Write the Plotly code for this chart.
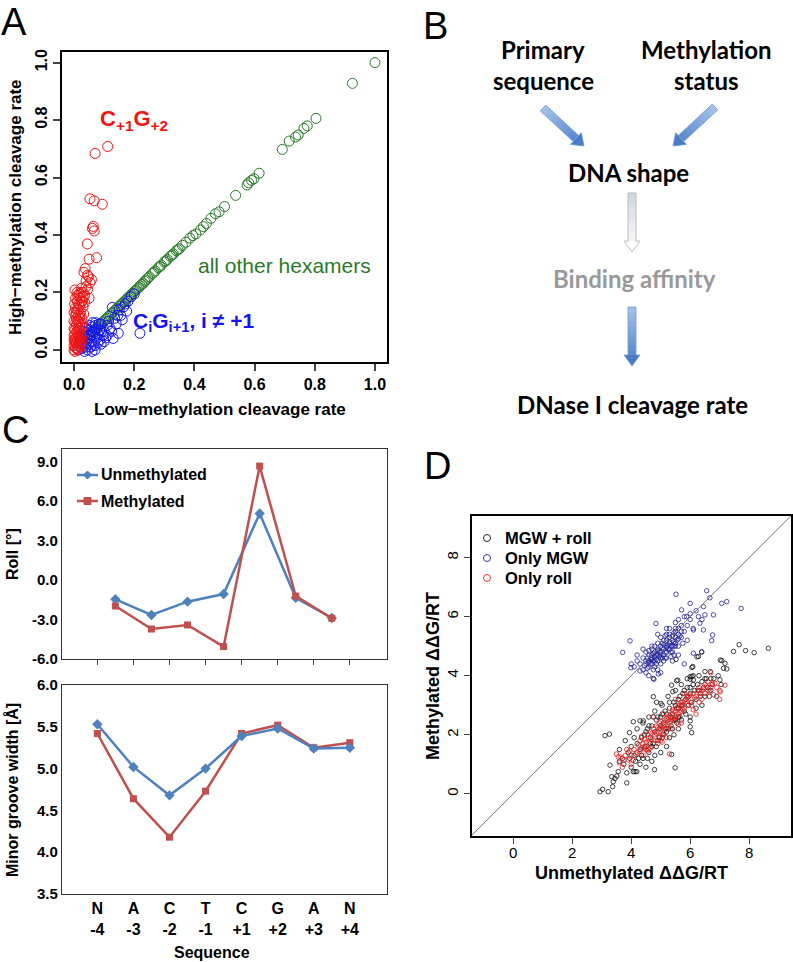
import math
import plotly.graph_objects as go

W, H = 793, 962

# ---------------- Panel A data ----------------
a_green = [(1.0, 1.0), (0.925, 0.928), (0.804, 0.806), (0.775, 0.78), (0.764, 0.771), (0.745, 0.748),
           (0.736, 0.741), (0.715, 0.727), (0.692, 0.698), (0.615, 0.615), (0.598, 0.596), (0.59, 0.59),
           (0.58, 0.582), (0.575, 0.574), (0.537, 0.538), (0.50, 0.499), (0.482, 0.481), (0.47, 0.474),
           (0.455, 0.458), (0.43, 0.429), (0.42, 0.418), (0.395, 0.398), (0.385, 0.389), (0.372, 0.375),
           (0.36, 0.364), (0.35, 0.352), (0.34, 0.345), (0.33, 0.334), (0.32, 0.326), (0.31, 0.315),
           (0.30, 0.306), (0.29, 0.295), (0.28, 0.286), (0.27, 0.275), (0.26, 0.266), (0.25, 0.255),
           (0.245, 0.25), (0.24, 0.243), (0.235, 0.239), (0.23, 0.232), (0.225, 0.228), (0.22, 0.223),
           (0.215, 0.217), (0.21, 0.213), (0.205, 0.207), (0.20, 0.203), (0.195, 0.197), (0.19, 0.193),
           (0.185, 0.187), (0.18, 0.183), (0.175, 0.177), (0.17, 0.172), (0.165, 0.167), (0.16, 0.162),
           (0.155, 0.157), (0.15, 0.152), (0.145, 0.146), (0.14, 0.142), (0.135, 0.137), (0.13, 0.131),
           (0.125, 0.127), (0.12, 0.121), (0.115, 0.117), (0.11, 0.111), (0.105, 0.107), (0.10, 0.101),
           (0.095, 0.097), (0.09, 0.091), (0.085, 0.087), (0.08, 0.081), (0.075, 0.077), (0.07, 0.072),
           (0.065, 0.067), (0.06, 0.062), (0.055, 0.057), (0.05, 0.052), (0.045, 0.047), (0.265, 0.27),
           (0.285, 0.29), (0.305, 0.31), (0.325, 0.33), (0.345, 0.349), (0.405, 0.404), (0.44, 0.44)]
a_blue = [(0.219, 0.058), (0.147, 0.058), (0.100, 0.029), (0.105, 0.042), (0.095, 0.05), (0.12, 0.075),
          (0.14, 0.09), (0.16, 0.105), (0.127, 0.148), (0.15, 0.14), (0.2, 0.195), (0.19, 0.185),
          (0.17, 0.16), (0.18, 0.17), (0.165, 0.15), (0.155, 0.12), (0.135, 0.11), (0.11, 0.085),
          (0.09, 0.09), (0.085, 0.07), (0.08, 0.055), (0.075, 0.04), (0.07, 0.085), (0.065, 0.06),
          (0.06, 0.08), (0.06, 0.03), (0.055, 0.05), (0.05, 0.07), (0.05, 0.02), (0.045, 0.04),
          (0.04, 0.06), (0.04, 0.01), (0.035, 0.03), (0.035, 0.05), (0.03, 0.015), (0.03, 0.04),
          (0.025, 0.025), (0.025, 0.005), (0.02, 0.01), (0.018, 0.03), (0.015, 0.0), (0.045, 0.0),
          (0.055, 0.01), (0.065, 0.02), (0.07, 0.015), (0.08, 0.025), (0.09, 0.02), (0.085, 0.035),
          (0.11, 0.05), (0.125, 0.065), (0.13, 0.04), (0.115, 0.1), (0.1, 0.065), (0.075, 0.07),
          (0.068, 0.045), (0.058, 0.065), (0.048, 0.055), (0.038, 0.075), (0.032, 0.065), (0.028, 0.05),
          (0.052, 0.085), (0.062, 0.095), (0.072, 0.095), (0.082, 0.09), (0.042, 0.025), (0.022, 0.045),
          (0.092, 0.065), (0.145, 0.12), (0.175, 0.135), (0.07, 0.0), (0.06, -0.005), (0.035, -0.005)]
a_red = [(0.070, 0.684), (0.112, 0.708), (0.053, 0.526), (0.067, 0.519), (0.094, 0.507), (0.061, 0.423),
         (0.067, 0.414), (0.064, 0.43), (0.044, 0.369), (0.075, 0.321), (0.050, 0.316), (0.037, 0.283),
         (0.033, 0.27), (0.045, 0.26), (0.048, 0.255), (0.053, 0.234), (0.058, 0.245), (0.040, 0.24),
         (0.003, 0.209), (0.025, 0.215), (0.030, 0.2), (0.035, 0.19), (0.045, 0.21), (0.020, 0.18),
         (0.028, 0.17), (0.015, 0.16), (0.05, 0.18), (0.01, 0.14), (0.022, 0.13), (0.03, 0.15),
         (0.005, 0.12), (0.018, 0.11), (0.012, 0.1), (0.025, 0.09), (0.0, 0.1), (0.008, 0.085),
         (0.015, 0.075), (0.003, 0.07), (0.02, 0.065), (0.01, 0.06), (0.0, 0.05), (0.015, 0.05),
         (0.005, 0.04), (0.012, 0.035), (0.002, 0.03), (0.02, 0.03), (0.008, 0.02), (0.0, 0.015),
         (0.015, 0.015), (0.005, 0.008), (0.01, 0.005), (0.0, 0.0), (0.003, -0.005), (0.012, 0.0),
         (0.02, 0.01), (0.025, 0.045), (0.028, 0.08), (0.007, 0.13), (0.002, 0.16), (0.017, 0.195),
         (0.035, 0.165), (0.04, 0.22), (0.006, 0.095), (0.0, 0.075), (0.014, 0.12), (0.022, 0.055),
         (0.009, 0.045), (0.004, 0.025), (0.018, 0.09), (0.026, 0.11), (0.011, 0.17), (0.032, 0.125),
         (0.0, 0.13), (0.005, 0.18), (0.01, 0.2), (0.015, 0.14), (0.02, 0.12), (0.025, 0.17),
         (0.008, 0.11), (0.003, 0.055), (0.013, 0.065), (0.018, 0.04), (0.007, 0.03), (0.0, 0.035),
         (0.022, 0.02), (0.027, 0.03), (0.016, 0.1), (0.004, 0.145), (0.019, 0.155), (0.03, 0.185),
         (0.012, 0.19), (0.024, 0.2)]
a_ticks = [0.0, 0.2, 0.4, 0.6, 0.8, 1.0]
a_ticktext = ["0.0", "0.2", "0.4", "0.6", "0.8", "1.0"]

# ---------------- Panel C data ----------------
c_series = ["Unmethylated", "Methylated"]
c_roll_pos = [0.5, 1.5, 2.5, 3.5, 4.5, 5.5, 6.5]
c_roll_unmeth = [-1.46, -2.65, -1.64, -1.06, 5.07, -1.35, -2.88]
c_roll_meth = [-1.97, -3.72, -3.41, -5.06, 8.67, -1.21, -2.9]
c_roll_ticks = [-6, -3, 0, 3, 6, 9]
c_roll_ticktext = ["-6.0", "-3.0", "0.0", "3.0", "6.0", "9.0"]
c_seq_labels = ["N<br>-4", "A<br>-3", "C<br>-2", "T<br>-1", "C<br>+1", "G<br>+2", "A<br>+3", "N<br>+4"]
c_seq_pos = [0, 1, 2, 3, 4, 5, 6, 7]
c_mgw_unmeth = [5.53, 5.02, 4.68, 5.0, 5.39, 5.48, 5.24, 5.25]
c_mgw_meth = [5.42, 4.64, 4.18, 4.73, 5.42, 5.52, 5.25, 5.31]
c_mgw_ticks = [3.5, 4.0, 4.5, 5.0, 5.5, 6.0]
c_mgw_ticktext = ["3.5", "4.0", "4.5", "5.0", "5.5", "6.0"]

# ---------------- Panel D data ----------------
d_series = ["MGW + roll", "Only MGW", "Only roll"]
d_black = [(2.94, 0.07), (3.03, 0.15), (3.22, 0.07), (3.11, 1.97), (3.26, 2.02), (3.28, 0.97), (3.34, 0.58),
           (3.39, 0.41), (3.45, 0.52), (3.51, 0.6), (3.37, 0.24), (3.56, 0.75), (3.85, 0.37), (3.85, 0.71),
           (4.07, 0.75), (4.13, 0.75), (4.19, 0.75), (4.79, 0.82), (5.49, 0.88), (5.37, 1.33), (3.94, 2.07),
           (4.07, 2.44), (4.30, 2.47), (4.41, 2.47), (4.75, 2.61), (4.86, 3.1), (5.01, 3.06), (5.54, 3.83),
           (5.41, 3.46), (6.0, 3.88), (6.11, 3.86), (7.01, 3.86), (6.50, 4.14), (6.09, 4.31), (6.28, 4.65),
           (6.39, 4.8), (7.07, 4.51), (7.18, 4.42), (7.24, 4.23), (7.47, 4.82), (7.66, 5.05), (8.17, 4.78),
           (8.65, 4.93), (7.88, 4.85), (6.0, 3.97), (5.37, 3.68), (4.75, 3.29), (6.05, 2.07), (6.0, 2.27),
           (6.0, 2.47), (4.75, 3.91), (6.68, 4.14), (7.02, 4.53), (7.13, 4.25), (6.06, 4.28), (6.06, 3.97),
           (5.52, 4.55), (5.58, 3.85), (6.23, 4.64),
           (3.9, 1.4), (4.0, 1.6), (4.1, 1.3), (4.2, 1.7), (4.3, 1.5), (4.35, 1.9), (4.4, 1.2), (4.45, 2.0),
           (4.5, 1.6), (4.55, 2.2), (4.6, 1.4), (4.65, 1.9), (4.7, 2.3), (4.75, 1.7), (4.8, 2.1), (4.85, 2.5),
           (4.9, 1.8), (4.95, 2.2), (5.0, 2.6), (5.05, 1.9), (5.1, 2.4), (5.15, 2.8), (5.2, 2.1), (5.25, 2.5),
           (5.3, 2.9), (5.35, 2.3), (5.4, 2.7), (5.45, 3.1), (5.5, 2.5), (5.55, 2.9), (5.6, 3.2), (5.65, 2.6),
           (5.7, 3.0), (5.75, 3.4), (5.8, 2.8), (5.85, 3.2), (5.9, 3.6), (5.95, 3.0), (6.0, 3.4), (6.1, 3.7),
           (6.2, 3.2), (6.3, 3.5), (6.4, 3.8), (6.5, 3.3), (6.6, 3.6), (6.7, 3.5), (6.8, 3.9), (6.9, 3.3),
           (6.4, 3.0), (6.2, 2.9), (5.0, 1.4), (4.8, 1.3), (5.2, 1.6), (4.6, 2.6), (4.4, 2.4), (4.2, 2.2),
           (3.8, 1.8), (3.7, 1.2), (3.6, 1.1), (4.0, 0.9), (4.3, 1.0), (4.7, 1.1), (5.3, 1.9), (5.6, 2.2),
           (6.0, 2.6), (6.3, 4.0), (5.5, 3.5), (5.7, 3.7),
           (4.1, 1.9), (4.25, 1.2), (4.5, 2.1), (4.6, 2.3), (4.7, 1.6), (4.85, 1.6), (4.9, 2.6), (5.0, 2.3),
           (5.05, 2.7), (5.1, 2.0), (5.2, 2.7), (5.25, 2.2), (5.3, 3.1), (5.35, 2.6), (5.4, 2.2), (5.45, 2.5),
           (5.5, 3.0), (5.55, 2.4), (5.6, 2.9), (5.65, 3.3), (5.7, 2.5), (5.75, 3.0), (5.8, 3.5), (5.85, 2.7),
           (5.9, 3.3), (6.0, 3.6), (6.05, 3.1), (6.15, 3.5), (6.25, 3.7), (6.35, 3.3), (6.45, 3.6), (6.55, 3.9),
           (6.65, 3.3), (6.75, 3.7), (3.6, 1.5), (3.75, 1.0), (3.95, 1.2), (4.15, 1.1), (4.35, 1.3), (4.55, 1.2),
           (4.45, 1.55), (4.65, 1.7), (4.95, 1.9), (5.15, 2.2), (5.45, 2.0), (5.6, 2.6), (4.5, 0.9), (4.8, 2.8),
           (5.05, 3.0), (5.25, 3.3), (6.1, 4.0), (5.9, 3.9), (6.5, 3.9), (6.7, 3.9), (7.05, 3.7), (6.95, 4.0)]
d_blue = [(5.52, 6.76), (6.56, 6.88), (6.67, 6.64), (7.07, 6.45), (7.24, 6.51), (7.73, 6.28), (3.96, 5.18),
          (3.71, 4.79), (4.84, 5.77), (3.99, 4.27), (4.30, 4.16), (4.77, 3.88), (4.92, 4.06), (6.76, 5.38),
          (6.73, 5.19), (6.11, 4.76), (6.39, 4.81), (6.28, 6.0), (6.0, 6.45), (5.71, 6.23), (5.88, 6.0),
          (6.45, 6.34), (6.5, 6.06), (6.79, 6.06), (6.33, 5.78), (6.11, 5.55), (6.45, 5.55),
          (4.5, 4.4), (4.6, 4.5), (4.7, 4.6), (4.8, 4.5), (4.9, 4.7), (5.0, 4.8), (5.1, 4.9), (5.2, 5.0),
          (5.3, 5.1), (5.4, 5.2), (5.5, 5.3), (5.6, 5.4), (4.6, 4.7), (4.7, 4.4), (4.8, 4.8), (4.9, 4.5),
          (5.0, 5.0), (5.1, 4.7), (5.2, 5.2), (5.3, 4.9), (5.4, 5.0), (5.5, 5.1), (4.4, 4.6), (4.5, 4.8),
          (4.7, 4.9), (4.8, 4.3), (4.9, 4.2), (5.0, 4.6), (5.1, 5.2), (5.2, 4.8), (5.3, 5.4), (5.4, 4.8),
          (5.5, 5.5), (5.6, 5.0), (5.7, 5.3), (4.3, 4.4), (4.4, 4.2), (4.6, 4.3), (4.7, 4.7), (4.8, 5.0),
          (4.9, 4.9), (5.0, 4.4), (5.1, 4.5), (5.2, 4.6), (5.3, 5.3), (5.45, 5.45), (5.6, 5.6), (5.7, 5.7),
          (5.8, 5.5), (5.9, 5.2), (5.8, 6.0), (5.5, 5.8), (5.3, 5.6), (5.0, 5.3), (4.9, 5.4), (4.7, 5.0),
          (4.5, 4.1), (4.2, 4.5), (4.1, 4.3), (4.6, 4.0), (5.0, 4.1), (5.4, 4.5), (5.6, 4.7), (5.8, 4.4),
          (5.2, 5.6), (5.6, 5.9), (6.0, 5.9), (6.2, 6.2), (6.4, 5.9), (6.1, 5.6), (4.4, 4.9), (4.2, 4.7),
          (4.0, 4.4), (5.35, 4.65), (5.15, 5.35), (4.85, 4.55), (4.75, 4.75), (5.05, 4.95), (5.25, 5.05),
          (4.95, 4.65), (4.65, 4.55), (5.45, 5.0),
          (4.55, 4.6), (4.65, 4.4), (4.75, 4.5), (4.85, 4.7), (4.95, 4.8), (5.05, 4.6), (5.15, 4.8),
          (5.25, 4.9), (5.35, 5.0), (5.45, 5.15), (5.55, 5.2), (5.65, 5.35), (4.6, 4.45), (4.7, 4.55),
          (4.8, 4.65), (4.9, 4.85), (5.0, 4.7), (5.1, 5.05), (5.2, 4.95), (5.3, 5.15), (5.4, 5.35),
          (5.5, 5.0), (5.6, 5.25), (4.5, 4.5), (4.45, 4.35), (4.75, 4.2), (5.05, 5.1), (5.35, 4.8),
          (5.7, 5.5), (5.75, 5.1), (4.55, 4.25), (4.85, 4.4), (5.15, 4.6), (5.45, 4.7), (4.6, 4.85),
          (4.9, 5.1), (5.2, 5.4), (5.5, 5.6), (5.9, 5.7), (6.0, 6.1)]
d_red = [(3.56, 1.25), (4.07, 1.14), (6.33, 3.4), (6.84, 3.74), (7.18, 3.68), (7.02, 3.45), (7.0, 3.2),
         (6.7, 4.1), (6.6, 3.8), (3.5, 1.35), (3.6, 1.05), (3.7, 0.9), (3.8, 1.3), (3.9, 1.15), (4.0, 1.3),
         (4.1, 1.5), (4.2, 1.4), (4.25, 1.65), (4.3, 1.8), (4.35, 1.55), (4.4, 1.7), (4.45, 1.85), (4.5, 1.75),
         (4.55, 2.0), (4.6, 1.9), (4.65, 2.1), (4.7, 1.85), (4.75, 2.2), (4.8, 2.0), (4.85, 2.3), (4.9, 2.1),
         (4.95, 2.4), (5.0, 2.2), (5.05, 2.0), (5.1, 2.3), (5.15, 2.5), (5.2, 2.2), (5.25, 2.6), (5.3, 2.4),
         (5.35, 2.7), (5.4, 2.5), (5.45, 2.8), (5.5, 2.6), (5.55, 2.9), (5.6, 2.7), (5.65, 3.0), (5.7, 2.8),
         (5.75, 3.1), (5.8, 2.9), (5.85, 3.2), (5.9, 3.0), (5.95, 3.3), (6.0, 3.1), (6.1, 3.4), (6.2, 3.3),
         (6.3, 3.6), (6.4, 3.5), (6.5, 3.7), (6.6, 3.5), (6.7, 3.6), (6.5, 3.4), (6.2, 2.7), (5.3, 1.35),
         (4.9, 1.7), (4.6, 1.5), (5.2, 1.9), (5.7, 2.4), (4.4, 1.3), (4.0, 1.0), (3.85, 1.5), (4.75, 2.6),
         (5.0, 1.8), (5.5, 3.2), (5.8, 3.4), (6.3, 3.1), (5.1, 2.7), (4.55, 1.45),
         (4.15, 1.35), (4.3, 1.45), (4.35, 1.95), (4.5, 1.5), (4.6, 1.75), (4.65, 1.55), (4.7, 2.05),
         (4.8, 1.8), (4.85, 2.05), (4.9, 2.25), (4.95, 1.95), (5.0, 2.45), (5.05, 2.25), (5.1, 2.05),
         (5.15, 2.35), (5.2, 2.55), (5.25, 2.3), (5.3, 2.65), (5.35, 2.45), (5.4, 2.85), (5.45, 2.55),
         (5.5, 2.8), (5.55, 2.6), (5.6, 3.0), (5.65, 2.75), (5.7, 3.1), (5.75, 2.85), (5.8, 3.15),
         (5.9, 3.25), (6.0, 3.35), (6.05, 3.0), (6.15, 3.25), (6.25, 3.5), (6.35, 3.4), (6.45, 3.55),
         (6.55, 3.65), (6.65, 3.45), (6.75, 3.75), (6.9, 3.6), (7.0, 3.5), (3.95, 1.45), (3.75, 1.15),
         (3.65, 1.25), (4.45, 1.6), (5.05, 1.75), (5.35, 2.2), (5.6, 2.35), (6.1, 2.85), (6.4, 3.2),
         (6.8, 3.35)]
d_ticks = [0, 2, 4, 6, 8]

# ---------------- helpers ----------------
def px(x):
    return x / W


def py(y):
    return 1 - y / H


def xs(pts):
    return [p[0] for p in pts]


def ys(pts):
    return [p[1] for p in pts]


SANS = "Liberation Sans, Arial, sans-serif"
CAL = "Lato, Open Sans, sans-serif"

A_GREEN, A_BLUE, A_RED = "#2a7a2a", "#1414f0", "#f01414"
BLUE_C, RED_C = "#4f81bd", "#c0504d"
D_COLS = ["#111111", "#22229a", "#ee1c1c"]

fig = go.Figure()

# Panel A
for pts, col in [(a_green, A_GREEN), (a_blue, A_BLUE), (a_red, A_RED)]:
    fig.add_trace(go.Scatter(x=xs(pts), y=ys(pts), mode="markers", xaxis="x", yaxis="y",
                             showlegend=False,
                             marker=dict(symbol="circle-open", size=10, color=col, line=dict(width=1))))

# Panel C top (roll)
fig.add_trace(go.Scatter(x=c_roll_pos, y=c_roll_unmeth, mode="lines+markers", name=c_series[0],
                         xaxis="x2", yaxis="y2", showlegend=False,
                         line=dict(color=BLUE_C, width=2.5),
                         marker=dict(symbol="diamond", size=8, color=BLUE_C)))
fig.add_trace(go.Scatter(x=c_roll_pos, y=c_roll_meth, mode="lines+markers", name=c_series[1],
                         xaxis="x2", yaxis="y2", showlegend=False,
                         line=dict(color=RED_C, width=2.5),
                         marker=dict(symbol="square", size=7, color=RED_C)))
# Panel C bottom (MGW)
fig.add_trace(go.Scatter(x=c_seq_pos, y=c_mgw_meth, mode="lines+markers", showlegend=False,
                         xaxis="x3", yaxis="y3", name=c_series[1],
                         line=dict(color=RED_C, width=2.5),
                         marker=dict(symbol="square", size=7, color=RED_C)))
fig.add_trace(go.Scatter(x=c_seq_pos, y=c_mgw_unmeth, mode="lines+markers", showlegend=False,
                         xaxis="x3", yaxis="y3", name=c_series[0],
                         line=dict(color=BLUE_C, width=2.5),
                         marker=dict(symbol="diamond", size=8, color=BLUE_C)))

# Panel D
for pts, col, nm in zip([d_black, d_blue, d_red], D_COLS, d_series):
    fig.add_trace(go.Scatter(x=xs(pts), y=ys(pts), mode="markers", xaxis="x4", yaxis="y4",
                             name=nm, showlegend=False,
                             marker=dict(symbol="circle-open", size=4.5, color=col, line=dict(width=0.8))))

# ---------------- axes ----------------
A_font = dict(family=SANS, size=16, color="black", weight="bold")
common_box = dict(showgrid=False, zeroline=False, mirror=True, showline=True, automargin=False)

layout = dict(
    width=W, height=H, autosize=False,
    margin=dict(l=0, r=0, t=0, b=0, pad=0, autoexpand=False),
    paper_bgcolor="white", plot_bgcolor="white",
    font=dict(family=SANS, color="black"),
    showlegend=False,
    xaxis=dict(domain=[px(62), px(387)], range=[-0.04, 1.04], anchor="y",
               tickvals=a_ticks, ticktext=a_ticktext, ticks="outside", ticklen=7, tickwidth=1.5,
               linecolor="black", linewidth=2, tickfont=A_font, **common_box),
    yaxis=dict(domain=[py(362), py(52)], range=[-0.042, 1.037], anchor="x",
               tickvals=a_ticks, ticktext=a_ticktext, ticks="outside", ticklen=7, tickwidth=1.5,
               tickangle=-90, linecolor="black", linewidth=2, tickfont=A_font, **common_box),
    xaxis2=dict(domain=[px(62), px(387)], range=[-0.98, 8.03], anchor="y2",
                tickvals=c_seq_pos, showticklabels=False, ticks="outside", ticklen=5, tickcolor="#444",
                linecolor="#333", linewidth=1.3, **common_box),
    yaxis2=dict(domain=[py(659), py(449)], range=[-6, 9.97], anchor="x2",
                tickvals=c_roll_ticks, ticktext=c_roll_ticktext, ticks="",
                tickfont=dict(family=SANS, size=15, color="black", weight="bold"),
                linecolor="#333", linewidth=1.3, **common_box),
    xaxis3=dict(domain=[px(62), px(387)], range=[-0.98, 8.03], anchor="y3",
                tickvals=c_seq_pos, ticktext=c_seq_labels, ticks="",
                tickfont=dict(family=SANS, size=16, color="black", weight="bold"),
                linecolor="#333", linewidth=1.3, **common_box),
    yaxis3=dict(domain=[py(894), py(685)], range=[3.5, 6.0], anchor="x3",
                tickvals=c_mgw_ticks, ticktext=c_mgw_ticktext, ticks="",
                tickfont=dict(family=SANS, size=15, color="black", weight="bold"),
                linecolor="#333", linewidth=1.3, **common_box),
    xaxis4=dict(domain=[px(472), px(791)], range=[-1.4, 9.42], anchor="y4",
                tickvals=d_ticks, ticks="outside", ticklen=6, tickwidth=1, ticklabelstandoff=-4,
                tickfont=dict(family=SANS, size=15, color="black"),
                linecolor="black", linewidth=2, **common_box),
    yaxis4=dict(domain=[py(836), py(516)], range=[-1.43, 9.41], anchor="x4",
                tickvals=d_ticks, ticks="outside", ticklen=6, tickwidth=1, tickangle=-90,
                tickfont=dict(family=SANS, size=15, color="black"),
                linecolor="black", linewidth=2, **common_box),
)
fig.update_layout(**layout)

# ---------------- annotations ----------------
ann = []


def text(x, y, s, size, color="black", family=SANS, bold=False, angle=0, xanchor="center"):
    ann.append(dict(x=px(x), y=py(y), xref="paper", yref="paper", text=s, showarrow=False,
                    xanchor=xanchor, yanchor="middle", textangle=angle,
                    font=dict(family=family, size=size, color=color, weight="bold" if bold else "normal")))


# panel letters
text(14, 22, "A", 38)
text(436, 26, "B", 38)
text(15, 430, "C", 38)
text(437, 466, "D", 38)

# panel A
text(220, 409, "Low−methylation cleavage rate", 17, bold=True)
text(15, 207, "High−methylation cleavage rate", 17, bold=True, angle=-90)
text(134, 120, "C<sub>+1</sub>G<sub>+2</sub>", 22, color=A_RED, bold=True)
text(284, 266, "all other hexamers", 21, color=A_GREEN)
text(193, 322, "C<sub>i</sub>G<sub>i+1</sub>, i ≠ +1", 21, color=A_BLUE, bold=True)

# panel B
BF = 24
text(543, 50, "Primary", BF, family=CAL, bold=True)
text(543, 80, "sequence", BF, family=CAL, bold=True)
text(706, 50, "Methylation", BF, family=CAL, bold=True)
text(706, 80, "status", BF, family=CAL, bold=True)
text(628, 172, "DNA shape", BF, family=CAL, bold=True)
text(634, 278, "Binding affinity", BF, color="#999999", family=CAL, bold=True)
text(632, 404, "DNase I cleavage rate", BF, family=CAL, bold=True)

# panel C
text(12, 554, "Roll [°]", 16, bold=True, angle=-90)
text(12, 790, "Minor groove width [Å]", 16, bold=True, angle=-90)
text(212, 952, "Sequence", 16, bold=True)
# panel C legend text
text(99, 475, c_series[0], 16, bold=True, xanchor="left")
text(99, 501, c_series[1], 16, bold=True, xanchor="left")

# panel D
text(631, 873, "Unmethylated ΔΔG/RT", 18, bold=True)
text(433, 676, "Methylated ΔΔG/RT", 18, bold=True, angle=-90)
# panel D legend text
for i, nm in enumerate(d_series):
    text(503, 538 + 20 * i, nm, 16.5, bold=True, xanchor="left")

fig.update_layout(annotations=ann)

# ---------------- shapes ----------------
shapes = []


def poly(pts, fill, line=None, lw=1):
    path = "M " + " L ".join(f"{px(a):.5f},{py(b):.5f}" for a, b in pts) + " Z"
    shapes.append(dict(type="path", path=path, xref="paper", yref="paper",
                       fillcolor=fill, line=dict(color=line or "rgba(0,0,0,0)", width=lw if line else 0)))


def mix(c1, c2, t):
    a = [int(c1[i:i + 2], 16) for i in (1, 3, 5)]
    b = [int(c2[i:i + 2], 16) for i in (1, 3, 5)]
    return "#" + "".join(f"{round(a[k] + (b[k] - a[k]) * t):02x}" for k in range(3))


def arrow(x0, y0, x1, y1, c_top, c_bot, edge, w=4, hw=8, hl=11, n=10):
    dx, dy = x1 - x0, y1 - y0
    L = math.hypot(dx, dy)
    ux, uy = dx / L, dy / L
    nx, ny = -uy, ux
    shaft = L - hl
    # gradient shaft bands
    for i in range(n):
        s0 = shaft * i / n
        s1 = shaft * (i + 1) / n + 0.6
        ax, ay = x0 + ux * s0, y0 + uy * s0
        bx, by = x0 + ux * min(s1, shaft), y0 + uy * min(s1, shaft)
        poly([(ax + nx * w, ay + ny * w), (bx + nx * w, by + ny * w),
              (bx - nx * w, by - ny * w), (ax - nx * w, ay - ny * w)],
             mix(c_top, c_bot, (i + 0.5) / (n + 2)))
    hx, hy = x1 - ux * hl, y1 - uy * hl
    poly([(hx + nx * hw, hy + ny * hw), (x1, y1), (hx - nx * hw, hy - ny * hw)], c_bot)
    # outline
    pts = [(x0 + nx * w, y0 + ny * w), (hx + nx * w, hy + ny * w), (hx + nx * hw, hy + ny * hw),
           (x1, y1), (hx - nx * hw, hy - ny * hw), (hx - nx * w, hy - ny * w), (x0 - nx * w, y0 - ny * w)]
    poly(pts, "rgba(0,0,0,0)", edge, 0.8)


arrow(543, 108, 584, 146, "#a7c3ea", "#4a7cc6", "#6f9bd8")
arrow(715, 107, 673, 146, "#a7c3ea", "#4a7cc6", "#6f9bd8")
arrow(632, 193, 632, 252, "#cfd5de", "#ffffff", "#b0b0b0")
arrow(632, 307, 632, 366, "#a7c3ea", "#4a7cc6", "#6f9bd8")

# panel C legend keys
shapes.append(dict(type="line", xref="paper", yref="paper", x0=px(77), x1=px(98), y0=py(475), y1=py(475),
                   line=dict(color=BLUE_C, width=2.5)))
poly([(87.5, 471), (91.5, 475), (87.5, 479), (83.5, 475)], BLUE_C, BLUE_C)
shapes.append(dict(type="line", xref="paper", yref="paper", x0=px(77), x1=px(98), y0=py(501), y1=py(501),
                   line=dict(color=RED_C, width=2.5)))
poly([(84, 497.5), (91, 497.5), (91, 504.5), (84, 504.5)], RED_C, RED_C)

# panel D legend keys
for i, col in enumerate(D_COLS):
    cy = 538 + 20 * i
    shapes.append(dict(type="circle", xref="paper", yref="paper",
                       x0=px(483.5), x1=px(490.5), y0=py(cy + 3.5), y1=py(cy - 3.5),
                       line=dict(color=col, width=0.9), fillcolor="rgba(0,0,0,0)"))

# panel D diagonal y = x
shapes.append(dict(type="line", xref="x4", yref="y4", x0=-1.4, y0=-1.4, x1=9.42, y1=9.42,
                   line=dict(color="#666666", width=0.9)))
fig.update_layout(shapes=shapes)

fig.write_html("out.html", config={"displayModeBar": False},
               post_script="document.body.style.margin='0px';document.body.style.padding='0px';")
